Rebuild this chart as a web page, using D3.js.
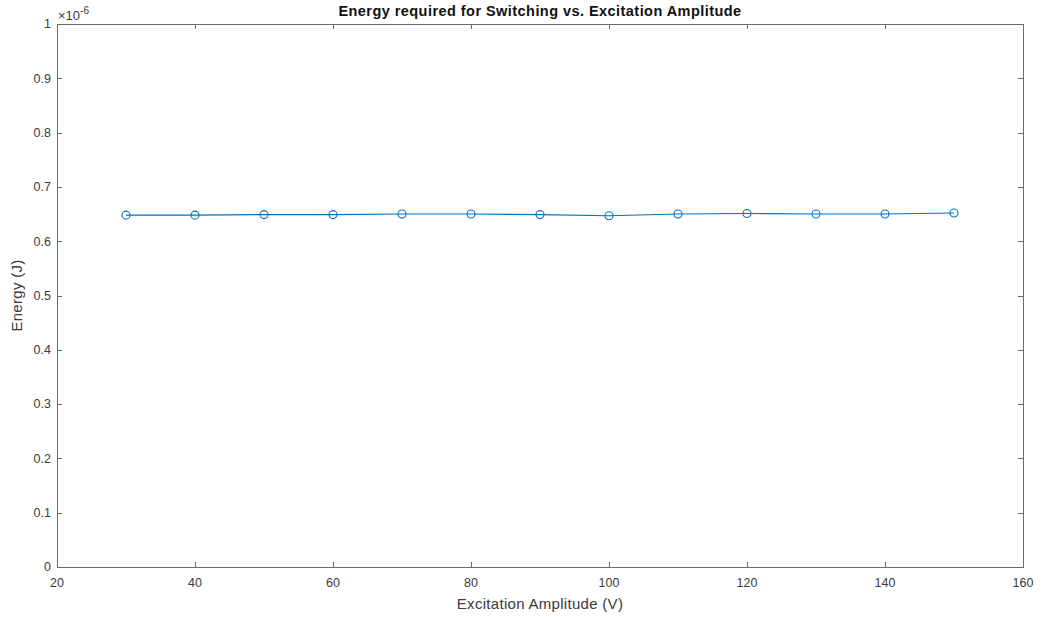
<!DOCTYPE html>
<html>
<head>
<meta charset="utf-8">
<script src="https://cdn.jsdelivr.net/npm/d3@7"></script>
<style>
  html, body { margin: 0; padding: 0; background: #fff; }
  svg { display: block; font-family: "Liberation Sans", Arial, Helvetica, sans-serif; }
</style>
</head>
<body>
<svg id="chart" width="1044" height="617"></svg>
<script>
// Excitation amplitude (V) and switching energy (in units of 1e-6 J)
const amplitudes = [30, 40, 50, 60, 70, 80, 90, 100, 110, 120, 130, 140, 150];
const energies   = [0.648, 0.648, 0.649, 0.649, 0.650, 0.650, 0.649, 0.647, 0.650, 0.651, 0.650, 0.650, 0.652];
const xTicks = [20, 40, 60, 80, 100, 120, 140, 160];
const yTicks = [0, 0.1, 0.2, 0.3, 0.4, 0.5, 0.6, 0.7, 0.8, 0.9, 1];

const svg = d3.select("#chart");
const plotL = 57, plotR = 1023, plotT = 24, plotB = 567;
const axisColor = "#3a3a3a";
const boxColor = "#6b6b6b";
const lineColor = "#0072BD";

const x = d3.scaleLinear().domain([20, 160]).range([plotL, plotR]);
const y = d3.scaleLinear().domain([0, 1]).range([plotB, plotT]);
const fmt = d => (d === 0 || d === 1) ? String(d) : d3.format(".1f")(d);

// Box
svg.append("rect")
  .attr("x", plotL + 0.5).attr("y", plotT + 0.5)
  .attr("width", plotR - plotL).attr("height", plotB - plotT)
  .attr("fill", "none").attr("stroke", boxColor).attr("stroke-width", 1);

const tickLen = 5;
// Bottom and top ticks (inward)
const xt = svg.append("g");
xTicks.forEach(t => {
  const px = Math.round(x(t)) + 0.5;
  xt.append("line").attr("x1", px).attr("x2", px).attr("y1", plotB).attr("y2", plotB - tickLen)
    .attr("stroke", boxColor).attr("stroke-width", 1);
  xt.append("line").attr("x1", px).attr("x2", px).attr("y1", plotT).attr("y2", plotT + tickLen)
    .attr("stroke", boxColor).attr("stroke-width", 1);
  xt.append("text").attr("x", x(t)).attr("y", plotB + 20)
    .attr("text-anchor", "middle").attr("font-size", 12.5).attr("fill", axisColor)
    .text(t);
});

// Left and right ticks (inward)
const yt = svg.append("g");
yTicks.forEach(t => {
  const py = Math.round(y(t)) + 0.5;
  yt.append("line").attr("x1", plotL).attr("x2", plotL + tickLen).attr("y1", py).attr("y2", py)
    .attr("stroke", boxColor).attr("stroke-width", 1);
  yt.append("line").attr("x1", plotR).attr("x2", plotR - tickLen).attr("y1", py).attr("y2", py)
    .attr("stroke", boxColor).attr("stroke-width", 1);
  yt.append("text").attr("x", plotL - 6).attr("y", y(t)).attr("dy", "0.35em")
    .attr("text-anchor", "end").attr("font-size", 12.5).attr("fill", axisColor)
    .text(fmt(t));
});

// Exponent multiplier
const ex = svg.append("text").attr("x", plotL + 1).attr("y", 20)
  .attr("font-size", 13).attr("fill", axisColor);
ex.append("tspan").text("\u00d710");
ex.append("tspan").attr("dy", -6).attr("font-size", 10).text("-6");

// Data line and markers
const line = d3.line().x((d, i) => x(amplitudes[i])).y(d => y(d));
svg.append("path").datum(energies)
  .attr("d", line).attr("fill", "none")
  .attr("stroke", lineColor).attr("stroke-width", 1.1);
svg.append("g").selectAll("circle").data(energies).join("circle")
  .attr("cx", (d, i) => x(amplitudes[i])).attr("cy", d => y(d))
  .attr("r", 4).attr("fill", "none")
  .attr("stroke", lineColor).attr("stroke-width", 1.1);

// Title and axis labels
svg.append("text").attr("x", (plotL + plotR) / 2).attr("y", 16)
  .attr("text-anchor", "middle").attr("font-size", 14.5).attr("font-weight", "bold")
  .attr("letter-spacing", 0.45)
  .attr("fill", "#111").text("Energy required for Switching vs. Excitation Amplitude");
svg.append("text").attr("x", (plotL + plotR) / 2).attr("y", 609)
  .attr("text-anchor", "middle").attr("font-size", 15).attr("letter-spacing", 0.3)
  .attr("fill", axisColor)
  .text("Excitation Amplitude (V)");
svg.append("text")
  .attr("transform", `translate(22,${(plotT + plotB) / 2}) rotate(-90)`)
  .attr("text-anchor", "middle").attr("font-size", 15).attr("letter-spacing", 0.3)
  .attr("fill", axisColor)
  .text("Energy (J)");
</script>
</body>
</html>
